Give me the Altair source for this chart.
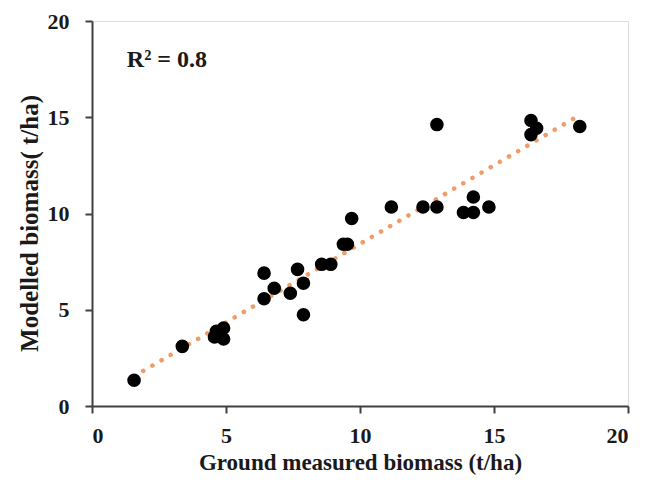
import altair as alt
import pandas as pd

ground = [1.57, 3.37, 4.57, 4.64, 4.91, 4.91, 6.42, 6.42, 6.80, 7.40, 7.67, 7.89, 7.89,
          8.57, 8.91, 9.38, 9.53, 9.69, 11.17, 12.35, 12.87, 12.87, 13.86, 14.23, 14.23,
          14.81, 16.38, 16.38, 16.59, 18.20]
modelled = [1.34, 3.10, 3.59, 3.88, 4.05, 3.48, 6.90, 5.57, 6.12, 5.86, 7.10, 6.38, 4.74,
            7.36, 7.36, 8.40, 8.40, 9.74, 10.34, 10.34, 10.34, 14.62, 10.05, 10.05, 10.86,
            10.34, 14.83, 14.10, 14.43, 14.52]

df = pd.DataFrame({"ground": ground, "modelled": modelled})

FONT = "Liberation Serif"
TXT = "#1a1a1a"
AX = "#404040"

xs = alt.Scale(domain=[0, 20], nice=False)
ys = alt.Scale(domain=[0, 20], nice=False)

x_axis = alt.Axis(title="Ground measured biomass (t/ha)", values=[0, 5, 10, 15, 20],
                  grid=False, domainColor=AX, domainWidth=2, tickColor=AX,
                  tickWidth=2, tickSize=7, labelFont=FONT, labelFontSize=22,
                  labelFontWeight="bold", labelColor=TXT, labelPadding=12,
                  titleFont=FONT, titleFontSize=23, titleFontWeight="bold",
                  titleColor=TXT, titleBaseline="alphabetic", titleY=63)
y_axis = alt.Axis(title="Modelled biomass( t/ha)", values=[0, 5, 10, 15, 20],
                  grid=False, domainColor=AX, domainWidth=2, tickColor=AX,
                  tickWidth=2, tickSize=7, labelFont=FONT, labelFontSize=22,
                  labelFontWeight="bold", labelColor=TXT, labelPadding=16,
                  titleFont=FONT, titleFontSize=25, titleFontWeight="bold",
                  titleColor=TXT, titleX=-50, titleY=202)

base = alt.Chart(df)

points = base.mark_circle(color="black", opacity=1, size=185).encode(
    x=alt.X("ground:Q", scale=xs, axis=x_axis),
    y=alt.Y("modelled:Q", scale=ys, axis=y_axis),
)

trend = base.transform_regression("ground", "modelled", extent=[1.57, 18.0]).mark_line(
    color="#EE8A4A", strokeWidth=4.5, strokeDash=[0.1, 10.5], strokeCap="round", opacity=0.85
).encode(x=alt.X("ground:Q", scale=xs), y=alt.Y("modelled:Q", scale=ys))

label_df = pd.DataFrame({"x": [1.3], "y": [17.97], "t": ["R² = 0.8"]})
label = alt.Chart(label_df).mark_text(font=FONT, fontSize=24, fontWeight="bold",
                                      align="left", baseline="middle", color=TXT).encode(
    x=alt.X("x:Q", scale=xs), y=alt.Y("y:Q", scale=ys), text="t:N")

chart = (trend + points + label).properties(
    width=536, height=385,
    autosize=alt.AutoSizeParams(type="none"),
    padding={"left": 84, "top": 13, "right": 18, "bottom": 69},
).configure_view(stroke=None).configure(background="white")

chart.save("out.html", embed_options={"renderer": "svg", "actions": False})
